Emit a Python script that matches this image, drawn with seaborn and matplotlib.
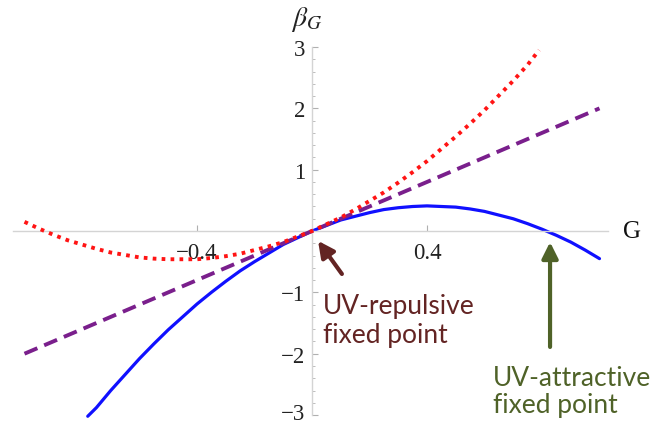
import matplotlib
matplotlib.use("Agg")
import matplotlib.pyplot as plt
from matplotlib.ticker import FixedLocator, FixedFormatter, MultipleLocator
from matplotlib.transforms import ScaledTranslation
import pandas as pd
import seaborn as sns

# Beta function curves beta_G(G)
g_blue = [-0.78, -0.75, -0.70, -0.65, -0.60, -0.55, -0.50, -0.45, -0.40, -0.35,
          -0.30, -0.25, -0.20, -0.15, -0.10, -0.05, 0.00, 0.05, 0.10, 0.15,
          0.20, 0.25, 0.30, 0.35, 0.40, 0.45, 0.50, 0.55, 0.60, 0.65,
          0.70, 0.75, 0.80, 0.85, 0.90, 0.95, 1.00]
beta_blue = [-3.02, -2.88, -2.60, -2.34, -2.08, -1.84, -1.61, -1.40, -1.19, -1.00,
             -0.82, -0.65, -0.50, -0.36, -0.22, -0.11, 0.00, 0.09, 0.18, 0.24,
             0.30, 0.35, 0.38, 0.40, 0.41, 0.40, 0.39, 0.36, 0.32, 0.26,
             0.20, 0.12, 0.03, -0.07, -0.18, -0.31, -0.45]

g_red = [-1.00, -0.95, -0.90, -0.85, -0.80, -0.75, -0.70, -0.65, -0.60, -0.55,
         -0.50, -0.45, -0.40, -0.35, -0.30, -0.25, -0.20, -0.15, -0.10, -0.05,
         0.00, 0.05, 0.10, 0.15, 0.20, 0.25, 0.30, 0.35, 0.40, 0.45,
         0.50, 0.55, 0.60, 0.65, 0.70, 0.75, 0.79]
beta_red = [0.15, 0.04, -0.06, -0.15, -0.22, -0.29, -0.35, -0.39, -0.43, -0.45,
            -0.46, -0.46, -0.46, -0.44, -0.41, -0.37, -0.31, -0.25, -0.18, -0.09,
            0.00, 0.11, 0.22, 0.35, 0.49, 0.63, 0.79, 0.96, 1.14, 1.34,
            1.54, 1.75, 1.97, 2.21, 2.45, 2.71, 2.95]

g_purple = [-1.00, 1.00]
beta_purple = [-2.00, 2.00]

x_ticks = [-0.4, 0.4]
x_tick_labels = ["\u22120.4", "0.4"]
y_ticks = [-3, -2, -1, 1, 2, 3]
y_tick_labels = ["\u22123", "\u22122", "\u22121", "1", "2", "3"]

sns.set_theme(style="white")
plt.rcParams["font.family"] = ["Liberation Serif", "DejaVu Serif"]
plt.rcParams["mathtext.fontset"] = "stix"

fig = plt.figure(figsize=(6.53, 4.27), dpi=100)
ax = fig.add_axes([0.0199, 0.0185, 0.9112, 0.8762])

blue_df = pd.DataFrame({"G": g_blue, "beta": beta_blue})
red_df = pd.DataFrame({"G": g_red, "beta": beta_red})
purple_df = pd.DataFrame({"G": g_purple, "beta": beta_purple})

sns.lineplot(data=purple_df, x="G", y="beta", ax=ax, sort=False, color="#7a1f8c",
             linewidth=2.8, zorder=3)
ax.lines[-1].set_dashes((3.6, 1.9))
sns.lineplot(data=red_df, x="G", y="beta", ax=ax, sort=False, color="#ff1414",
             linewidth=2.8, zorder=4)
ax.lines[-1].set_dashes((0.95, 1.35))
sns.lineplot(data=blue_df, x="G", y="beta", ax=ax, sort=False, color="#1010ff",
             linewidth=2.3, zorder=2)

ax.set_xlim(-1.04, 1.0296)
ax.set_ylim(-3.05, 3.05)

# Axes crossing at the origin
for side in ("top", "right"):
    ax.spines[side].set_visible(False)
for side in ("left", "bottom"):
    ax.spines[side].set_position("zero")
    ax.spines[side].set_color("#d4d4d4")
    ax.spines[side].set_linewidth(1.0)
ax.spines["left"].set_bounds(-3, 3)

ax.xaxis.set_major_locator(FixedLocator(x_ticks))
ax.xaxis.set_major_formatter(FixedFormatter(x_tick_labels))
ax.yaxis.set_major_locator(FixedLocator(y_ticks))
ax.yaxis.set_major_formatter(FixedFormatter(y_tick_labels))
ax.yaxis.set_minor_locator(MultipleLocator(0.2))

ax.tick_params(axis="both", which="major", direction="in", length=4.5, width=0.8,
               color="#b0b0b0", labelsize=16.5, labelcolor="#222222")
ax.tick_params(axis="y", which="minor", direction="in", length=2.5, width=0.7,
               color="#bdbdbd", left=True)
ax.tick_params(axis="x", which="major", pad=8, bottom=True)
ax.tick_params(axis="y", which="major", pad=5, left=True)
ax.set_xlabel("")
ax.set_ylabel("")

# lift the lowest y label slightly so it stays inside the figure
fig.canvas.draw()
bottom_label = ax.yaxis.get_major_ticks()[0].label1
bottom_label.set_transform(bottom_label.get_transform()
                           + ScaledTranslation(0, 3 / 72, fig.dpi_scale_trans))

ax.text(-0.02, 3.36, r"$\beta_G$", fontsize=20, ha="center", va="baseline",
        color="#222222", clip_on=False)
ax.text(1.113, 0.0, "G", fontsize=18, ha="center", va="center",
        color="#111111", clip_on=False)

# Fixed point annotations
brown = "#632423"
green = "#4f6228"
note_font = ["Lato", "DejaVu Sans"]
ax.annotate("", xy=(0.021, -0.16), xytext=(0.104, -0.70),
            arrowprops=dict(arrowstyle="-|>", color=brown, lw=3.0,
                            mutation_scale=24, shrinkA=0, shrinkB=0))
ax.text(0.038, -1.81, "UV-repulsive\nfixed point", fontsize=19, color=brown,
        family=note_font, ha="left", va="baseline", linespacing=1.2)
ax.annotate("", xy=(0.828, -0.18), xytext=(0.828, -1.89),
            arrowprops=dict(arrowstyle="-|>", color=green, lw=3.0,
                            mutation_scale=24, shrinkA=0, shrinkB=0))
ax.text(0.63, -2.95, "UV-attractive\nfixed point", fontsize=19, color=green,
        family=note_font, ha="left", va="baseline", linespacing=1.1)

fig.savefig("out.png", dpi=100)
